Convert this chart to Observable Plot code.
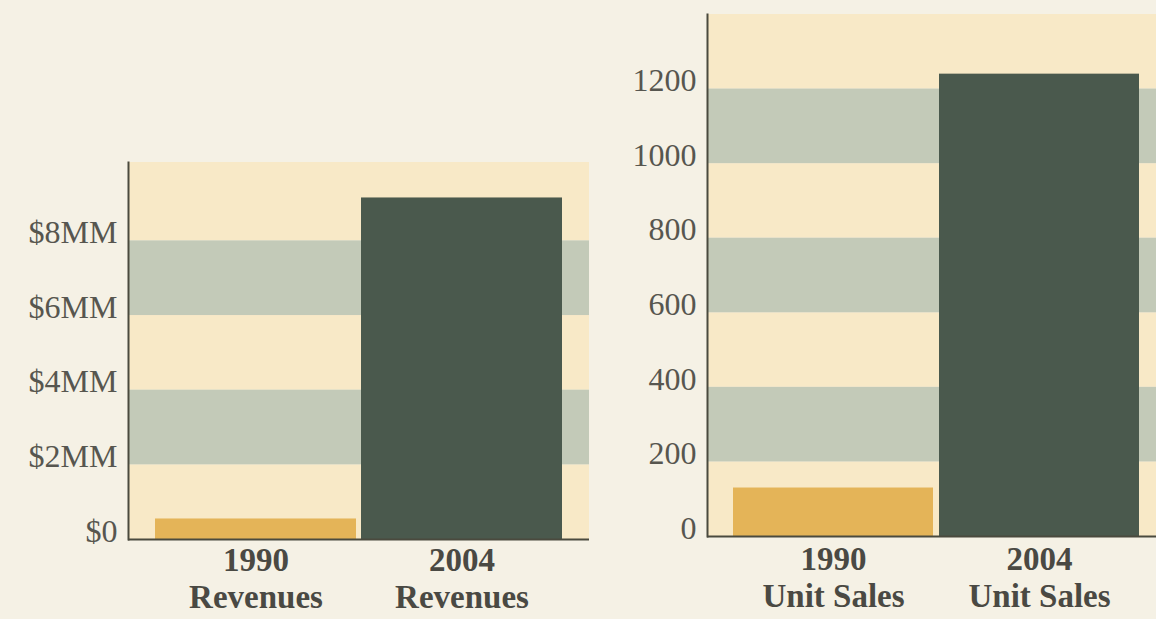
<!DOCTYPE html>
<html>
<head>
<meta charset="utf-8">
<script src="https://cdn.jsdelivr.net/npm/d3@7"></script>
<script src="https://cdn.jsdelivr.net/npm/@observablehq/plot@0.6"></script>
<style>
  html, body { margin: 0; padding: 0; background: #f5f1e5; }
  #wrap { position: relative; width: 1156px; height: 619px; overflow: hidden; background: #f5f1e5; }
  #left { position: absolute; left: 0; top: 0; }
  #right { position: absolute; left: 600px; top: 0; }
  svg { background: transparent !important; }
</style>
</head>
<body>
<div id="wrap"><div id="left"></div><div id="right"></div></div>
<script>
// ---- data ----
const years = ["1990", "2004"];
const revenues = [550000, 9150000];          // dollars
const unitSales = [130, 1240];               // units
const revenueTicks = [0, 2e6, 4e6, 6e6, 8e6];
const unitTicks = [0, 200, 400, 600, 800, 1000, 1200];
const revenueBandEdges = [0, 2e6, 4e6, 6e6, 8e6, 10.1e6];
const unitBandEdges = [0, 200, 400, 600, 800, 1000, 1200, 1400];
const revenueLabel = "Revenues";
const unitLabel = "Unit Sales";

// ---- style ----
const bandYellow = "#f8e9c7";
const bandGreen = "#c3cab8";
const barColors = ["#e4b458", "#4a594d"];
const ink = "#4a4943";
const tickInk = "#57564f";
const axisInk = "#4a4a3e";
const font = "'Liberation Serif', 'DejaVu Serif', serif";

function makeBands(edges) {
  const out = [];
  for (let i = 0; i < edges.length - 1; i++) out.push({y1: edges[i], y2: edges[i + 1], kind: i % 2});
  return out;
}

function chart({values, ticks, edges, label, tickFormat, width, margins, xPad, xLabelPad}) {
  const rows = years.map((y, i) => ({year: y, value: values[i]}));
  const bands = makeBands(edges);
  return Plot.plot({
    width, height: 619,
    marginTop: margins.top, marginBottom: margins.bottom,
    marginLeft: margins.left, marginRight: margins.right,
    style: {background: "transparent", fontFamily: font, color: ink, overflow: "visible"},
    x: {domain: years, paddingInner: xPad.inner, paddingOuter: xPad.outer, align: xPad.align, axis: null},
    y: {domain: [edges[0], edges[edges.length - 1]], axis: null},
    color: {domain: years, range: barColors},
    marks: [
      Plot.rect(bands.filter(b => b.kind === 0), {y1: "y1", y2: "y2", fill: bandYellow}),
      Plot.rect(bands.filter(b => b.kind === 1), {y1: "y1", y2: "y2", fill: bandGreen}),
      Plot.barY(rows, {x: "year", y: "value", fill: "year"}),
      Plot.axisY({ticks, tickSize: 0, tickPadding: 11, fontSize: 32, dy: -8, fill: tickInk,
        stroke: tickInk, strokeWidth: 0.5, tickFormat, label: null}),
      Plot.axisX({tickSize: 0, tickPadding: xLabelPad, fontSize: 33, fontWeight: "bold", fill: ink,
        lineHeight: 1.13, tickFormat: d => `${d}\n${label}`, label: null}),
      Plot.frame({anchor: "left", stroke: axisInk, strokeWidth: 2}),
      Plot.ruleY([0], {stroke: axisInk, strokeWidth: 2})
    ]
  });
}

document.getElementById("left").append(chart({
  values: revenues, ticks: revenueTicks, edges: revenueBandEdges, label: revenueLabel,
  tickFormat: d => `$${d / 1e6 === 0 ? 0 : d / 1e6 + "MM"}`,
  width: 600, margins: {top: 162, bottom: 80, left: 128, right: 11},
  xPad: {inner: 0.025, outer: 0.13, align: 0.5}, xLabelPad: 5
}));

document.getElementById("right").append(chart({
  values: unitSales, ticks: unitTicks, edges: unitBandEdges, label: unitLabel,
  tickFormat: d => `${d}`,
  width: 556, margins: {top: 14, bottom: 83, left: 107, right: 0},
  xPad: {inner: 0.03, outer: 0.104, align: 0.61}, xLabelPad: 7
}));
</script>
</body>
</html>
